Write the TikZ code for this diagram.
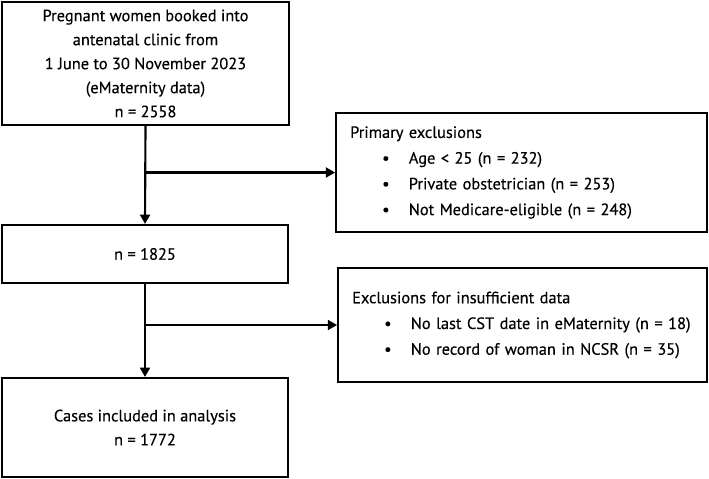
\documentclass[tikz,border=0pt]{standalone}
\usepackage{fontspec}
\setmainfont{PT Sans}[FakeBold=0.3]
\usetikzlibrary{arrows.meta, positioning}
\newcommand{\bitem}[1]{\hspace*{24pt}\makebox[20pt][l]{\textbullet}\mbox{#1}}
\tikzset{
  flowbox/.style={rectangle, draw=black, line width=1.6pt, align=center,
                  inner sep=0pt, minimum width=#1,
                  font=\fontsize{12.3}{18}\selectfont},
  flowbox/.default=214.5pt,
  exclbox/.style={rectangle, draw=black, line width=1.6pt, align=left,
                  inner xsep=10.5pt, inner ysep=0pt, text width=#1,
                  font=\fontsize{12.3}{19.3}\selectfont},
  arr/.style={-{Triangle[length=7pt, width=7.5pt]}, line width=1.6pt},
}

\begin{document}
\begin{tikzpicture}[x=0.75pt, y=-0.75pt]
  \useasboundingbox (0,0) rectangle (709,478);
  % main column
  \node[flowbox=215.25pt, minimum height=92.25pt] (booked) at (145.5,63.5)
    {Pregnant women booked into\\antenatal clinic from\\1 June to 30 November 2023\\(eMaternity data)\\n = 2558};
  \node[flowbox, minimum height=43.5pt] (remain) at (145,254) {n = 1825};
  \node[flowbox, minimum height=74.25pt] (cases) at (145,427.5)
    {Cases included in analysis\\n = 1772};
  % exclusion boxes
  \node[exclbox=257pt, minimum height=89.25pt] (primary) at (521.5,172.5)
    {Primary exclusions\\
     \bitem{Age < 25 (n = 232)}\\
     \bitem{Private obstetrician (n = 253)}\\
     \bitem{Not Medicare-eligible (n = 248)}};
  \node[exclbox=255.5pt, minimum height=85.5pt] (insuff) at (522.5,325)
    {Exclusions for insufficient data\\
     \bitem{No last CST date in eMaternity (n = 18)}\\
     \bitem{No record of woman in NCSR (n = 35)}};
  % connectors
  \coordinate (split1) at (booked.south |- primary.west);
  \coordinate (split2) at (remain.south |- insuff.west);
  \draw[arr] (booked.south) -- (remain.north);
  \draw[arr] (split1) -- (primary.west);
  \draw[arr] (remain.south) -- (cases.north);
  \draw[arr] (split2) -- (insuff.west);
\end{tikzpicture}
\end{document}
